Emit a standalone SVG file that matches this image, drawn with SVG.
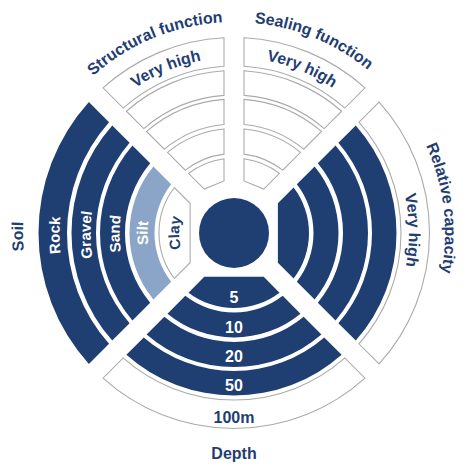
<svg xmlns="http://www.w3.org/2000/svg" width="470" height="470" viewBox="0 0 470 470">
<style>
.d{fill:#1f3e72}
.l{fill:#8ba5c9}
.o{fill:#ffffff;stroke:#ababab;stroke-width:1.1}
text{font-family:"Liberation Sans",Arial,sans-serif;font-weight:bold}
.t16{font-size:16px}
.t15{font-size:15px}
.n{fill:#1f3e72}
.w{fill:#ffffff}
</style>
<defs>
<path id="q1" d="M59.631,-45.488A75,75 0 0 1 59.631,45.488L43.874,29.733L43.874,-29.733Z"/>
<path id="q2" d="M80.625,-66.483A104.5,104.5 0 0 1 80.625,66.483L62.840,48.698A79.5,79.5 0 0 0 62.840,-48.698Z"/>
<path id="q3" d="M101.559,-87.417A134,134 0 0 1 101.559,87.417L83.821,69.679A109,109 0 0 0 83.821,-69.679Z"/>
<path id="q4" d="M121.758,-107.616A162.5,162.5 0 0 1 121.758,107.616L104.396,90.253A138,138 0 0 0 104.396,-90.253Z"/>
<path id="q5" d="M145.130,-130.988A195.5,195.5 0 0 1 145.130,130.988L124.946,110.804A167,167 0 0 0 124.946,-110.804Z"/>
<path id="e1" d="M72.499,-19.205A75,75 0 0 1 72.499,19.205L51.913,10.679L51.913,-10.679Z"/>
<path id="e2" d="M99.930,-30.567A104.5,104.5 0 0 1 99.930,30.567L76.693,20.943A79.5,79.5 0 0 0 76.693,-20.943Z"/>
<path id="e3" d="M127.281,-41.897A134,134 0 0 1 127.281,41.897L104.105,32.297A109,109 0 0 0 104.105,-32.297Z"/>
<path id="e4" d="M153.673,-52.829A162.5,162.5 0 0 1 153.673,52.829L130.988,43.432A138,138 0 0 0 130.988,-43.432Z"/>
<path id="e5" d="M184.209,-65.477A195.5,195.5 0 0 1 184.209,65.477L157.838,54.554A167,167 0 0 0 157.838,-54.554Z"/>
<path id="top211" d="M-211,0A211,211 0 0 1 211,0"/>
<path id="top175" d="M-175.5,0A175.5,175.5 0 0 1 175.5,0"/>
<path id="rt211" d="M0,-211A211,211 0 0 1 0,211"/>
<path id="rt175" d="M0,-175A175,175 0 0 1 0,175"/>
<path id="lf211" d="M0,211A211,211 0 0 1 0,-211"/>
<path id="lf174" d="M0,174.5A174.5,174.5 0 0 1 0,-174.5"/>
<path id="lf143" d="M0,143.5A143.5,143.5 0 0 1 0,-143.5"/>
<path id="lf114" d="M0,114.5A114.5,114.5 0 0 1 0,-114.5"/>
<path id="lf86" d="M0,86.5A86.5,86.5 0 0 1 0,-86.5"/>
<path id="lf55" d="M0,55A55,55 0 0 1 0,-55"/>
</defs>
<rect width="470" height="470" fill="#ffffff"/>

<g id="relative-capacity" transform="translate(234,233)">
<use id="rc-1" href="#q1" class="d"/>
<use id="rc-2" href="#q2" class="d"/>
<use id="rc-3" href="#q3" class="d"/>
<use id="rc-4" href="#q4" class="d"/>
<use id="rc-5" href="#q5" class="o"/>
</g>
<g id="depth" transform="translate(234,233) rotate(90)">
<use id="dp-1" href="#q1" class="d"/>
<use id="dp-2" href="#q2" class="d"/>
<use id="dp-3" href="#q3" class="d"/>
<use id="dp-4" href="#q4" class="d"/>
<use id="dp-5" href="#q5" class="o"/>
</g>
<g id="soil" transform="translate(234,233) rotate(180)">
<use id="so-clay" href="#q1" class="o"/>
<use id="so-silt" href="#q2" class="l"/>
<use id="so-sand" href="#q3" class="d"/>
<use id="so-gravel" href="#q4" class="d"/>
<use id="so-rock" href="#q5" class="d"/>
</g>
<g id="structural-function" transform="translate(234,233) rotate(-112.5)">
<use id="st-1" href="#e1" class="o"/>
<use id="st-2" href="#e2" class="o"/>
<use id="st-3" href="#e3" class="o"/>
<use id="st-4" href="#e4" class="o"/>
<use id="st-5" href="#e5" class="o"/>
</g>
<g id="sealing-function" transform="translate(234,233) rotate(-67.5)">
<use id="se-1" href="#e1" class="o"/>
<use id="se-2" href="#e2" class="o"/>
<use id="se-3" href="#e3" class="o"/>
<use id="se-4" href="#e4" class="o"/>
<use id="se-5" href="#e5" class="o"/>
</g>
<g id="core">
<circle cx="234" cy="233" r="35" class="d"/>
</g>

<g id="labels" transform="translate(234,233)">
<text class="t16 n" text-anchor="middle"><textPath href="#top211" startOffset="37.5%">Structural function</textPath></text>
<text class="t16 n" text-anchor="middle"><textPath href="#top175" startOffset="37.5%">Very high</textPath></text>
<text class="t16 n" text-anchor="middle"><textPath href="#top211" startOffset="62.5%">Sealing function</textPath></text>
<text class="t16 n" text-anchor="middle"><textPath href="#top175" startOffset="62.5%">Very high</textPath></text>
<text class="t16 n" text-anchor="middle"><textPath href="#rt211" startOffset="46.2%">Relative capacity</textPath></text>
<text class="t16 n" text-anchor="middle"><textPath href="#rt175" startOffset="49.5%">Very high</textPath></text>
<text class="t16 n" text-anchor="middle"><textPath href="#lf211" startOffset="49.5%">Soil</textPath></text>
<text class="t15 w" text-anchor="middle"><textPath href="#lf174" startOffset="49.6%">Rock</textPath></text>
<text class="t15 w" text-anchor="middle"><textPath href="#lf143" startOffset="49.6%">Gravel</textPath></text>
<text class="t15 w" text-anchor="middle"><textPath href="#lf114" startOffset="49.8%">Sand</textPath></text>
<text class="t15 w" text-anchor="middle"><textPath href="#lf86" startOffset="50%">Silt</textPath></text>
<text class="t15 n" text-anchor="middle"><textPath href="#lf55" startOffset="50%">Clay</textPath></text>
</g>
<g id="depth-labels" text-anchor="middle">
<text class="t16 w" x="234" y="302.7">5</text>
<text class="t16 w" x="234" y="332.7">10</text>
<text class="t16 w" x="234" y="361.7">20</text>
<text class="t16 w" x="234" y="390.7">50</text>
<text class="t16 n" x="234" y="422.7">100m</text>
<text class="t16 n" x="234" y="458.5">Depth</text>
</g>
</svg>
